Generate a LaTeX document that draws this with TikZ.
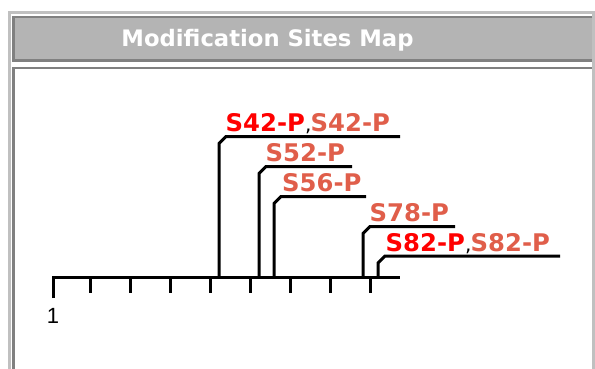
\documentclass[tikz,border=0pt]{standalone}
\usepackage{fontspec}
\setmainfont{DejaVu Sans}
\newfontfamily\numfont{Liberation Sans}
\definecolor{salmao}{RGB}{224,94,74}
\definecolor{cinzaclaro}{RGB}{192,192,192}
\definecolor{cinzaescuro}{RGB}{128,128,128}
\definecolor{cinzatitulo}{RGB}{180,180,180}
\begin{document}
\begin{tikzpicture}[x=1pt,y=-1pt]
		% Estilos
		\tikzstyle{moldura} = [line width=3pt, draw=cinzaclaro]
		\tikzstyle{borda} = [line width=2.5pt, draw=cinzaescuro]
		\tikzstyle{titulo} = [anchor=base, inner sep=0pt, text=white, font=\fontsize{22.7}{27}\selectfont\bfseries]
		\tikzstyle{eixo} = [line width=3pt, black]
		\tikzstyle{sitio} = [line width=3pt, black]
		\tikzstyle{rotulo} = [anchor=base west, inner sep=0pt, font=\fontsize{24.3}{29}\selectfont\bfseries]
		\useasboundingbox (0,0) rectangle (595,369);
		% Moldura
		\fill[white] (0,0) rectangle (595,369);
		\fill[cinzatitulo] (13.7,17) rectangle (592,60.5);
		\draw[moldura] (9,369) -- (9,13) -- (595,13);
		\draw[moldura] (593.8,13) -- (593.8,369);
		\draw[borda] (592,17) -- (13.7,17) -- (13.7,60.5) -- (592,60.5);
		\draw[borda] (592,68) -- (13.7,68) -- (13.7,369);
		\node[titulo] (title) at (267.5,46.7) {Modification Sites Map};
		% Eixo
		\coordinate (ax0) at (53,277.5);
		\coordinate (ax1) at (400,277.5);
		\coordinate (t0) at (53,298);
		\draw[eixo] (t0) -- (ax0) -- (ax1);
		\foreach \x in {90,130,...,370}
			\draw[eixo] (\x,277.5) -- (\x,293);
		\node[anchor=base, inner sep=0pt, font=\numfont\fontsize{22}{26}\selectfont] (n1) at (53,323) {1};
		% Sitios
		\coordinate (b42) at (219,277.5);  \coordinate (e42) at (400,136.5);
		\coordinate (b52) at (259,277.5);  \coordinate (e52) at (352,166.5);
		\coordinate (b56) at (274,277.5);  \coordinate (e56) at (366,196.5);
		\coordinate (b78) at (363,277.5);  \coordinate (e78) at (455,226.5);
		\coordinate (b82) at (378,277.5);  \coordinate (e82) at (560,256);
		\foreach \s in {42,52,56,78,82}
			\draw[sitio] (b\s) -- ([yshift=-7pt]b\s |- e\s) -- ([xshift=7pt]b\s |- e\s) -- (e\s);
		% Rotulos
		\node[rotulo, text=red] (s42a) at (225.5,131.3) {S42-P};
		\node[rotulo, font=\fontsize{20}{24}\selectfont] (v42) at (305,131.3) {,};
		\node[rotulo, text=salmao] (s42b) at (310.5,131.3) {S42-P};
		\node[rotulo, text=salmao] (s52) at (265.5,161.5) {S52-P};
		\node[rotulo, text=salmao] (s56) at (282,191.3) {S56-P};
		\node[rotulo, text=salmao] (s78) at (369.5,221.5) {S78-P};
		\node[rotulo, text=red] (s82a) at (385.5,251.3) {S82-P};
		\node[rotulo, font=\fontsize{20}{24}\selectfont] (v82) at (465,251.3) {,};
		\node[rotulo, text=salmao] (s82b) at (470.5,251.3) {S82-P};
	\end{tikzpicture}
\end{document}
